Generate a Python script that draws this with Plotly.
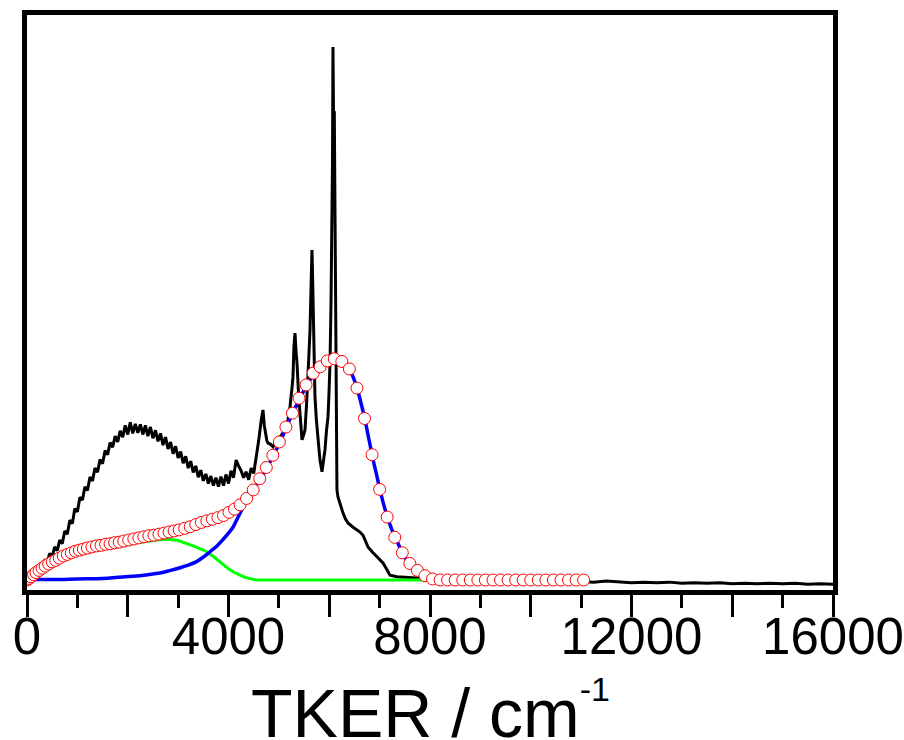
import plotly.graph_objects as go

# ---------------- data ----------------
# experimental TKER spectrum (black)
exp_x = [0, 50, 100, 150, 200, 250, 300, 350, 400, 450, 500, 550, 600, 650, 700, 750, 800, 850, 900, 950,
         1000, 1050, 1100, 1150, 1200, 1250, 1300, 1350, 1400, 1450, 1500, 1550, 1600, 1650, 1700, 1750,
         1800, 1850, 1900, 1950, 2000, 2050, 2100, 2150, 2200, 2250, 2300, 2350, 2400, 2450, 2500, 2550,
         2600, 2650, 2700, 2750, 2800, 2850, 2900, 2950, 3000, 3050, 3100, 3150, 3200, 3250, 3300, 3350,
         3400, 3450, 3500, 3550, 3600, 3650, 3700, 3750, 3800, 3850, 3900, 3950, 4000, 4050, 4100, 4150,
         4200, 4250, 4300, 4350, 4400, 4450, 4500, 4550, 4600, 4650, 4685, 4710, 4724, 4760, 4784, 4830,
         4883, 4950, 5022, 5080, 5121, 5180, 5221, 5260, 5280, 5300, 5320, 5340, 5360, 5390, 5419, 5459,
         5490, 5518, 5550, 5578, 5600, 5618, 5640, 5657, 5667, 5677, 5700, 5717, 5745, 5776, 5816, 5856,
         5885, 5915, 5945, 5975, 5995, 6015, 6035, 6054, 6064, 6074, 6082, 6088, 6094, 6100, 6106, 6112,
         6120, 6135, 6153, 6173, 6220, 6272, 6320, 6372, 6460, 6551, 6610, 6670, 6720, 6769, 6860, 6948,
         7010, 7067, 7140, 7206, 7345, 7500, 7662, 8000, 8250, 8500, 8750, 9000, 9250, 9500, 9750, 10000,
         10250, 10500, 10750, 11000, 11250, 11500, 11750, 12000, 12250, 12500, 12750, 13000, 13250, 13500,
         13750, 14000, 14250, 14500, 14750, 15000, 15250, 15500, 15750, 16000]
exp_y = [0.000, 0.005, 0.003, 0.013, 0.010, 0.024, 0.020, 0.036, 0.032, 0.050, 0.044, 0.062, 0.055, 0.075,
         0.068, 0.092, 0.086, 0.112, 0.106, 0.134, 0.128, 0.155, 0.150, 0.175, 0.168, 0.193, 0.186, 0.210,
         0.202, 0.226, 0.218, 0.243, 0.235, 0.258, 0.249, 0.270, 0.259, 0.280, 0.268, 0.290, 0.273, 0.296,
         0.275, 0.293, 0.276, 0.292, 0.273, 0.290, 0.270, 0.287, 0.266, 0.281, 0.260, 0.275, 0.253, 0.268,
         0.246, 0.259, 0.237, 0.251, 0.229, 0.241, 0.219, 0.232, 0.210, 0.223, 0.202, 0.214, 0.193, 0.206,
         0.186, 0.199, 0.181, 0.195, 0.177, 0.192, 0.175, 0.194, 0.177, 0.198, 0.181, 0.205, 0.192, 0.225,
         0.214, 0.205, 0.192, 0.203, 0.188, 0.210, 0.200, 0.230, 0.262, 0.300, 0.319, 0.290, 0.281, 0.262,
         0.257, 0.255, 0.250, 0.262, 0.268, 0.276, 0.281, 0.300, 0.325, 0.360, 0.381, 0.440, 0.463, 0.430,
         0.407, 0.350, 0.306, 0.263, 0.272, 0.281, 0.330, 0.375, 0.430, 0.469, 0.560, 0.619, 0.580, 0.531,
         0.420, 0.343, 0.300, 0.268, 0.225, 0.203, 0.222, 0.244, 0.280, 0.306, 0.350, 0.407, 0.520, 0.657,
         0.780, 1.000, 0.840, 0.930, 0.760, 0.880, 0.780, 0.810, 0.500, 0.300, 0.169, 0.156, 0.140, 0.126,
         0.115, 0.107, 0.100, 0.094, 0.090, 0.084, 0.072, 0.062, 0.052, 0.043, 0.037, 0.032, 0.020, 0.009,
         0.006, 0.005, 0.004, 0.001, 0.000, -0.001, 0.000, -0.002, -0.001, -0.002, -0.003, -0.002, -0.003,
         -0.002, -0.004, -0.003, -0.004, -0.002, -0.004, -0.005, -0.004, -0.005, -0.004, -0.006, -0.005,
         -0.006, -0.005, -0.007, -0.006, -0.007, -0.006, -0.007, -0.006, -0.008, -0.007, -0.008]

# total fit (red open circles)
fit_x = [0, 40, 80, 130, 180, 240, 300, 360, 430, 500, 570, 640, 720, 800, 880, 960, 1040, 1120, 1200,
         1290, 1380, 1470, 1560, 1650, 1740, 1830, 1920, 2020, 2120, 2220, 2320, 2420, 2520, 2620, 2720,
         2820, 2920, 3020, 3130, 3240, 3350, 3460, 3570, 3680, 3790, 3900, 4010, 4120, 4230, 4360, 4490,
         4620, 4750, 4880, 5010, 5140, 5270, 5400, 5540, 5680, 5820, 5960, 6100, 6250, 6400, 6550, 6700,
         6850, 7000, 7150, 7300, 7450, 7600, 7750, 7900, 8050, 8200, 8350, 8500, 8650, 8800, 8950, 9100,
         9250, 9400, 9550, 9700, 9850, 10000, 10150, 10300, 10450, 10600, 10750, 10900, 11050]
fit_y = [0.000, 0.003, 0.006, 0.010, 0.014, 0.018, 0.022, 0.026, 0.030, 0.034, 0.037, 0.041, 0.045,
         0.048, 0.051, 0.054, 0.056, 0.058, 0.060, 0.062, 0.064, 0.065, 0.067, 0.068, 0.070, 0.071, 0.073,
         0.075, 0.077, 0.079, 0.081, 0.083, 0.084, 0.086, 0.088, 0.090, 0.092, 0.094, 0.097, 0.100, 0.104,
         0.108, 0.111, 0.114, 0.117, 0.121, 0.127, 0.133, 0.141, 0.153, 0.169, 0.190, 0.211, 0.234, 0.259,
         0.287, 0.313, 0.341, 0.366, 0.388, 0.400, 0.411, 0.415, 0.410, 0.396, 0.360, 0.303, 0.235, 0.170,
         0.118, 0.080, 0.051, 0.031, 0.018, 0.008, 0.002, 0.000, 0.000, 0.000, 0.000, 0.000, 0.000, 0.000,
         0.000, 0.000, 0.000, 0.000, 0.000, 0.000, 0.000, 0.000, 0.000, 0.000, 0.000, 0.000, 0.000]

# fast component (blue)
blue_x = [0, 500, 1000, 1500, 1800, 2100, 2400, 2640, 2850, 3037, 3200, 3375, 3500, 3633, 3760, 3891,
          4000, 4089, 4160, 4228, 4300, 4367, 4450, 4526, 4650, 4764, 4890, 5022, 5120, 5221, 5320, 5419,
          5490, 5558, 5640, 5717, 5830, 5955, 6050, 6154, 6260, 6372, 6460, 6551, 6630, 6710, 6790, 6868,
          6950, 7027, 7106, 7186, 7275, 7364, 7420, 7483, 7570, 7662, 7750, 7841, 7920, 8000, 8100, 8200]
blue_y = [0.001, 0.001, 0.002, 0.003, 0.005, 0.007, 0.010, 0.013, 0.018, 0.023, 0.028, 0.035, 0.043,
          0.053, 0.063, 0.076, 0.088, 0.099, 0.112, 0.125, 0.140, 0.153, 0.164, 0.174, 0.192, 0.210,
          0.234, 0.258, 0.280, 0.302, 0.322, 0.340, 0.354, 0.366, 0.379, 0.390, 0.402, 0.409, 0.413,
          0.413, 0.410, 0.400, 0.384, 0.360, 0.332, 0.300, 0.263, 0.227, 0.193, 0.161, 0.133, 0.109,
          0.087, 0.069, 0.057, 0.045, 0.034, 0.026, 0.019, 0.013, 0.008, 0.004, 0.002, 0.001]

# slow component (green)
green_x = [0, 100, 200, 300, 400, 500, 650, 800, 1000, 1200, 1400, 1600, 1800, 2000, 2200, 2400, 2550,
           2700, 2850, 3000, 3100, 3176, 3300, 3450, 3570, 3700, 3800, 3891, 4000, 4100, 4200, 4300, 4400,
           4500, 4560, 8000, 8200]
green_y = [0.000, 0.005, 0.011, 0.017, 0.023, 0.028, 0.035, 0.041, 0.048, 0.053, 0.057, 0.061, 0.064,
           0.067, 0.070, 0.073, 0.075, 0.076, 0.076, 0.074, 0.071, 0.068, 0.064, 0.058, 0.053, 0.044,
           0.036, 0.029, 0.021, 0.015, 0.010, 0.006, 0.003, 0.001, 0.000, 0.000, 0.000]

major_ticks = [0, 2000, 4000, 6000, 8000, 10000, 12000, 14000, 16000]
major_labels = ["0", "", "4000", "", "8000", "", "12000", "", "16000"]
minor_ticks = [1000, 3000, 5000, 7000, 9000, 11000, 13000, 15000]
x_title = ("TKER / cm<span style='font-size:85px'><sup>"
           "<span style='font-size:34px'>-1</span></sup></span>")

# ---------------- figure ----------------
fig = go.Figure()
fig.add_trace(go.Scatter(x=exp_x, y=exp_y, mode="lines",
                         line=dict(color="black", width=3), showlegend=False))
fig.add_trace(go.Scatter(x=green_x, y=green_y, mode="lines",
                         line=dict(color="#00ff00", width=3), showlegend=False))
fig.add_trace(go.Scatter(x=blue_x, y=blue_y, mode="lines", line_shape="spline",
                         line=dict(color="#0000ff", width=3.5), showlegend=False))
fig.add_trace(go.Scatter(x=fit_x, y=fit_y, mode="markers",
                         marker=dict(symbol="circle", size=12, color="white",
                                     line=dict(color="#ff0000", width=1)),
                         showlegend=False))

font_family = "Arial, 'Liberation Sans', sans-serif"
fig.update_layout(
    width=904, height=740,
    margin=dict(l=27, r=71, t=15, b=150, autoexpand=False),
    paper_bgcolor="white", plot_bgcolor="white",
    font=dict(family=font_family, color="black"),
    xaxis=dict(
        range=[0, 16000], showgrid=False, zeroline=False, automargin=False,
        showline=True, linecolor="black", linewidth=5, mirror=True,
        tickmode="array", tickvals=major_ticks, ticktext=major_labels,
        ticks="outside", ticklen=22, tickwidth=3, tickcolor="black",
        tickfont=dict(size=51, family=font_family),
        ticklabelstandoff=-24, ticklabeloverflow="allow",
        minor=dict(tickmode="array", tickvals=minor_ticks, ticks="outside",
                   ticklen=13, tickwidth=3, tickcolor="black"),
    ),
    yaxis=dict(
        range=[-0.01876, 1.0600], showgrid=False, zeroline=False, automargin=False,
        showline=True, linecolor="black", linewidth=5, mirror=True,
        showticklabels=False, ticks="",
    ),
    annotations=[dict(text=x_title, xref="paper", yref="paper", x=0.5, y=-0.283,
                      xanchor="center", yanchor="bottom", showarrow=False,
                      font=dict(size=68, family=font_family, color="black"))],
)

fig.write_html("out.html")
